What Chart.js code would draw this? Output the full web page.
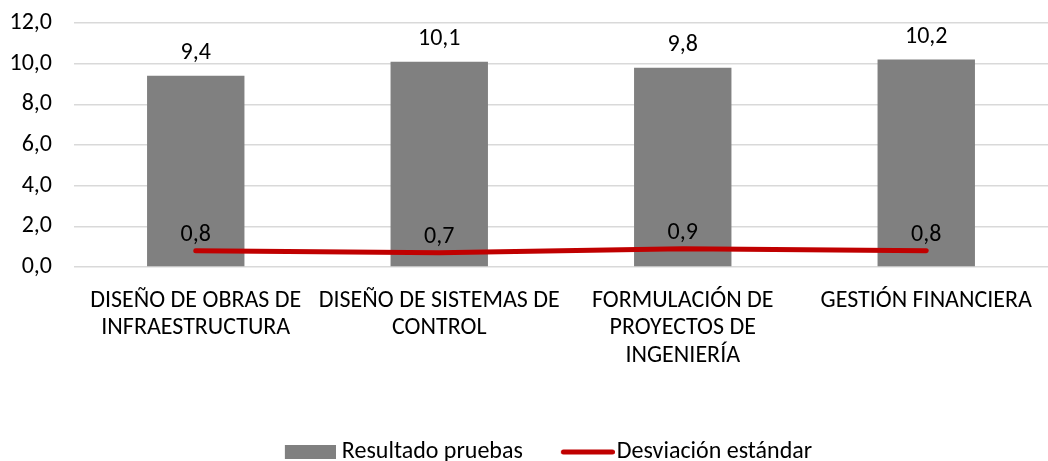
<!DOCTYPE html>
<html>
<head>
<meta charset="utf-8">
<title>Resultado pruebas</title>
<script src="https://cdn.jsdelivr.net/npm/chart.js@4/dist/chart.umd.min.js"></script>
<style>
  html, body { margin: 0; padding: 0; background: #fff; }
  #wrap { width: 1048px; height: 461px; }
</style>
</head>
<body>
<div id="wrap"><canvas id="myChart"></canvas></div>

<script>
// datos
var categorias = [
    ['DISEÑO DE OBRAS DE', 'INFRAESTRUCTURA'],
    ['DISEÑO DE SISTEMAS DE', 'CONTROL'],
    ['FORMULACIÓN DE', 'PROYECTOS DE', 'INGENIERÍA'],
    ['GESTIÓN FINANCIERA']
];
var resultados = [9.4, 10.1, 9.8, 10.2];
var desviacion = [0.8, 0.7, 0.9, 0.8];
var ticksY = [0, 2, 4, 6, 8, 10, 12];

var FONT = 'Carlito, Lato, sans-serif';
var TAM = 24;
var GRIS = '#808080';
var ROJO = '#C00000';

function coma(v) {
    return v.toFixed(1).replace('.', ',');
}

// iconos de la leyenda
var imgBarra = document.createElement('canvas');
imgBarra.width = 56; imgBarra.height = 14;
var c1 = imgBarra.getContext('2d');
c1.fillStyle = GRIS;
c1.fillRect(5, 0, 51, 14);

var imgLinea = document.createElement('canvas');
imgLinea.width = 64; imgLinea.height = 6;
var c2 = imgLinea.getContext('2d');
c2.strokeStyle = ROJO;
c2.lineWidth = 5;
c2.lineCap = 'round';
c2.beginPath();
c2.moveTo(12.5, 3);
c2.lineTo(61.5, 3);
c2.stroke();

// etiquetas de datos (sin plugin externo)
var etiquetas = {
    id: 'etiquetas',
    afterLayout: function(chart) {
        // la leyenda del original esta algo desplazada a la derecha
        chart.legend.left += 20;
        chart.legend.right += 20;
    },
    afterDatasetsDraw: function(chart) {
        var ctx = chart.ctx;
        ctx.save();
        ctx.font = TAM + 'px ' + FONT;
        ctx.fillStyle = '#000';
        ctx.textAlign = 'center';
        ctx.textBaseline = 'alphabetic';
        chart.data.datasets.forEach(function(ds, i) {
            var meta = chart.getDatasetMeta(i);
            meta.data.forEach(function(el, j) {
                var off = ds.type === 'line' ? 10 : 17;
                ctx.fillText(coma(ds.data[j]), el.x, el.y - off);
            });
        });
        ctx.restore();
    }
};

var ctx = document.getElementById('myChart');
var chart = new Chart(ctx, {
    data: {
        labels: categorias,
        datasets: [{
            type: 'bar',
            label: 'Resultado pruebas',
            data: resultados,
            backgroundColor: GRIS,
            barPercentage: 0.4,
            categoryPercentage: 1.0,
            order: 1
        }, {
            type: 'line',
            label: 'Desviación estándar',
            data: desviacion,
            borderColor: ROJO,
            backgroundColor: ROJO,
            borderWidth: 5,
            borderCapStyle: 'round',
            pointRadius: 0,
            tension: 0,
            order: 0
        }]
    },
    options: {
        responsive: true,
        maintainAspectRatio: false,
        animation: false,
        layout: { padding: { top: 23, right: -10, bottom: -13, left: 0 } },
        scales: {
            x: {
                grid: { display: false },
                border: { display: false },
                ticks: {
                    color: '#000',
                    font: { family: FONT, size: TAM, lineHeight: 1.15 },
                    padding: 12,
                    maxRotation: 0,
                    autoSkip: false
                },
                afterFit: function(axis) { axis.height = 135; }
            },
            y: {
                min: 0,
                max: 12,
                afterBuildTicks: function(axis) {
                    axis.ticks = ticksY.map(function(v) { return { value: v }; });
                },
                grid: { color: '#D9D9D9', lineWidth: 1.5, drawTicks: false },
                border: { display: false },
                ticks: {
                    color: '#000',
                    font: { family: FONT, size: TAM },
                    padding: 22,
                    callback: function(v) { return coma(v); }
                },
                afterFit: function(axis) {
                    axis.width = 74;
                    axis.paddingTop = 0;
                    axis.paddingBottom = 0;
                }
            }
        },
        plugins: {
            tooltip: { enabled: false },
            legend: {
                position: 'bottom',
                labels: {
                    color: '#000',
                    font: { family: FONT, size: TAM },
                    usePointStyle: true,
                    pointStyleWidth: 44,
                    padding: 38,
                    sort: function(a, b) { return a.datasetIndex - b.datasetIndex; },
                    generateLabels: function(chart) {
                        var items = Chart.defaults.plugins.legend.labels.generateLabels(chart);
                        items.forEach(function(it) {
                            it.pointStyle = it.datasetIndex === 0 ? imgBarra : imgLinea;
                            it.fontColor = '#000';
                        });
                        return items;
                    }
                }
            }
        }
    },
    plugins: [etiquetas]
});
</script>
</body>
</html>
